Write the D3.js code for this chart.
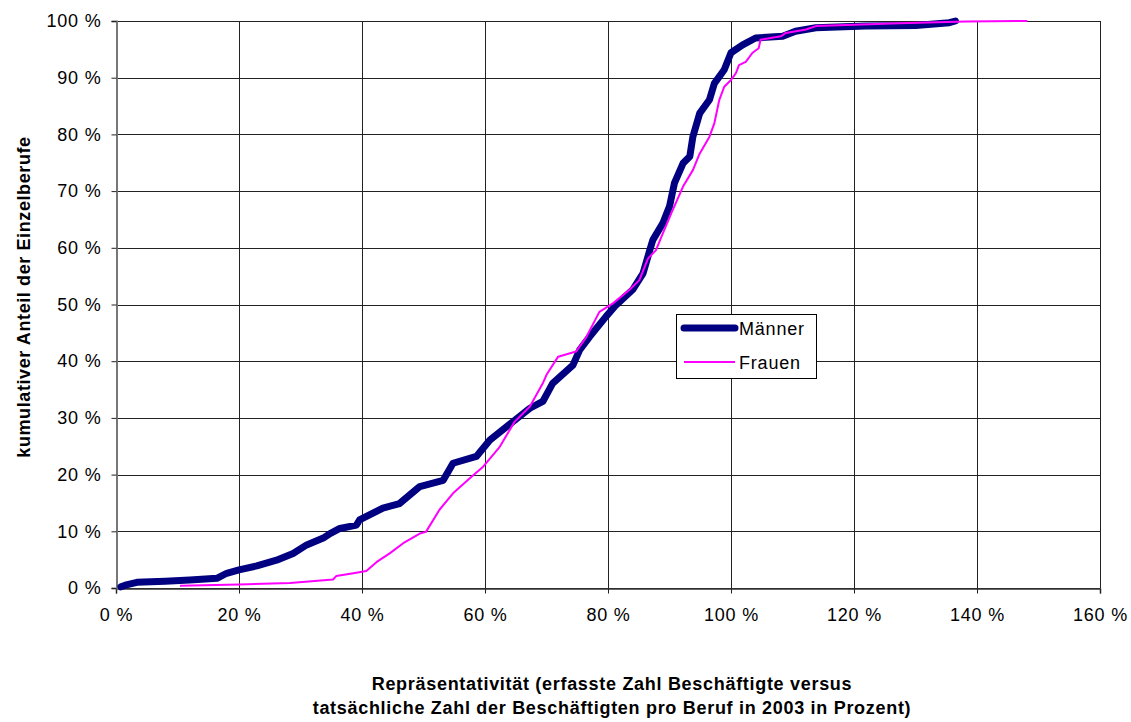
<!DOCTYPE html>
<html><head><meta charset="utf-8">
<script src="https://cdn.jsdelivr.net/npm/d3@7"></script>
<style>body{margin:0;background:#fff;} text{font-family:"Liberation Sans",Arial,sans-serif;}</style>
</head><body>
<svg id="c" width="1131" height="722"></svg>
<script>
const seriesNames = ["Männer", "Frauen"];
const xTicks = [0,20,40,60,80,100,120,140,160];
const yTicks = [0,10,20,30,40,50,60,70,80,90,100];
// Männer: [Repräsentativität %, kumulativer Anteil %]
const maenner = [
 [0.8,0.2],[1.5,0.5],[3.4,1.0],[8,1.2],[12,1.4],[16.4,1.7],[18,2.6],[20,3.2],[22.9,3.9],[26.1,4.9],
 [28.8,6.1],[31,7.6],[33.7,8.8],[34.8,9.6],[36.4,10.5],[39.1,11.1],[39.6,12],[43.4,14.1],[46.1,14.9],
 [49.4,17.9],[53.2,19.0],[54.8,22.0],[58.6,23.2],[60.8,26.1],[64.5,29.3],[67.3,31.7],[69.4,32.9],
 [71,36.1],[74.3,39.3],[75.4,42],[77,44.3],[79.7,47.9],[81.3,49.9],[84,52.6],[85.7,55.5],[86.8,59.6],
 [87.3,61.4],[88.9,64.3],[90,67.3],[90.8,71.4],[92.2,74.9],[93.3,76.1],[93.8,79.6],[94.9,83.7],
 [96.5,86.1],[97.3,89],[98.9,91.4],[100,94.4],[101.9,95.8],[104,97],[108.4,97.3],[110.5,98.2],
 [113.8,98.8],[121.9,99.1],[130,99.2],[135.5,99.7],[136.5,100]
];
const frauen = [
 [10.4,0.4],[20,0.6],[28.3,0.9],[35.3,1.5],[35.8,2.1],[38.6,2.6],[40.7,3.0],[42.4,4.6],[44.5,6.1],
 [46.7,7.9],[49.4,9.6],[50.4,9.9],[52.6,13.8],[54.8,16.7],[57.8,19.6],[59.7,21.4],[62.4,24.9],
 [64.8,29.3],[67.3,32],[69.4,36.1],[70,37.6],[71.9,40.8],[74.8,41.7],[76.5,44.3],[78.6,48.7],
 [80.8,50.2],[83.5,52.6],[85.1,54.3],[86.5,58.1],[87.8,59.6],[88.9,62.5],[90.3,66.1],[92.2,70.8],
 [93.8,73.7],[94.9,76.6],[96.5,79.6],[97.3,82],[98.1,86.1],[98.9,88.4],[100,89.6],[100.8,90.8],
 [101.3,92.2],[102.4,92.8],[103.5,94.4],[104.5,95.2],[104.8,96.7],[108.1,97.3],[108.9,97.9],
 [112.2,98.5],[113.8,99.1],[127.4,99.6],[138.2,99.9],[148.2,100]
];

const svg = d3.select("#c");
const L=116, R=1100, T=21, B=588;
const x = d3.scaleLinear().domain([0,160]).range([L,R]);
const y = d3.scaleLinear().domain([0,100]).range([B,T]);

// grid
svg.append("g").selectAll("line").data(yTicks).join("line")
 .attr("x1",L).attr("x2",R).attr("y1",d=>Math.round(y(d))+0.5).attr("y2",d=>Math.round(y(d))+0.5)
 .attr("stroke","#222").attr("stroke-width",1);
svg.append("g").selectAll("line").data(xTicks.filter(d=>d>0)).join("line")
 .attr("y1",T).attr("y2",B).attr("x1",d=>Math.round(x(d))+0.5).attr("x2",d=>Math.round(x(d))+0.5)
 .attr("stroke","#222").attr("stroke-width",1);

// axes
const fmt = d=>d+" %";
const ax = svg.append("g").attr("transform",`translate(0,${B+0.5})`)
 .call(d3.axisBottom(x).tickValues(xTicks).tickFormat(fmt).tickSize(5).tickPadding(15));
const ay = svg.append("g").attr("transform",`translate(${L+0.5},0)`)
 .call(d3.axisLeft(y).tickValues(yTicks).tickFormat(fmt).tickSize(5).tickPadding(10));
[ax,ay].forEach(g=>{
  g.selectAll("text").attr("font-size","18px").attr("letter-spacing","0.8px").attr("fill","#000")
   .attr("font-family","Liberation Sans, Arial, sans-serif");
  g.selectAll("line").attr("stroke","#222");
  g.select(".domain").attr("stroke","#333").attr("stroke-width",1.5);
});
ay.select(".domain").attr("stroke","#777").attr("stroke-width",2);

// lines
const line = d3.line().x(d=>x(d[0])).y(d=>y(d[1]));
svg.append("path").datum(maenner).attr("d",line).attr("fill","none")
 .attr("stroke","#000080").attr("stroke-width",7).attr("stroke-linejoin","round").attr("stroke-linecap","round");
svg.append("path").datum(frauen).attr("d",line).attr("fill","none")
 .attr("stroke","#FF00FF").attr("stroke-width",2).attr("stroke-linejoin","round");

// legend
const lg = svg.append("g");
lg.append("rect").attr("x",676.5).attr("y",314.5).attr("width",140).attr("height",64)
 .attr("fill","#fff").attr("stroke","#000").attr("stroke-width",1);
const legItems = [{n:seriesNames[0],c:"#000080",w:7,yy:328},{n:seriesNames[1],c:"#FF00FF",w:2,yy:362}];
legItems.forEach(it=>{
  lg.append("line").attr("x1",684).attr("x2",735).attr("y1",it.yy).attr("y2",it.yy)
   .attr("stroke",it.c).attr("stroke-width",it.w).attr("stroke-linecap",it.w>3?"round":"butt");
  lg.append("text").attr("x",739).attr("y",it.yy+6.5).attr("font-size","18px").attr("letter-spacing","0.8px").text(it.n);
});

// titles
svg.append("text").attr("transform","translate(30,297) rotate(-90)").attr("text-anchor","middle")
 .attr("font-size","18px").attr("letter-spacing","0.6px").attr("font-weight","bold").text("kumulativer Anteil der Einzelberufe");
svg.append("text").attr("x",612).attr("y",690).attr("text-anchor","middle")
 .attr("font-size","18px").attr("letter-spacing","0.7px").attr("font-weight","bold").text("Repräsentativität (erfasste Zahl Beschäftigte versus");
svg.append("text").attr("x",612).attr("y",714).attr("text-anchor","middle")
 .attr("font-size","18px").attr("letter-spacing","0.7px").attr("font-weight","bold").text("tatsächliche Zahl der Beschäftigten pro Beruf in 2003 in Prozent)");
</script>
</body></html>
